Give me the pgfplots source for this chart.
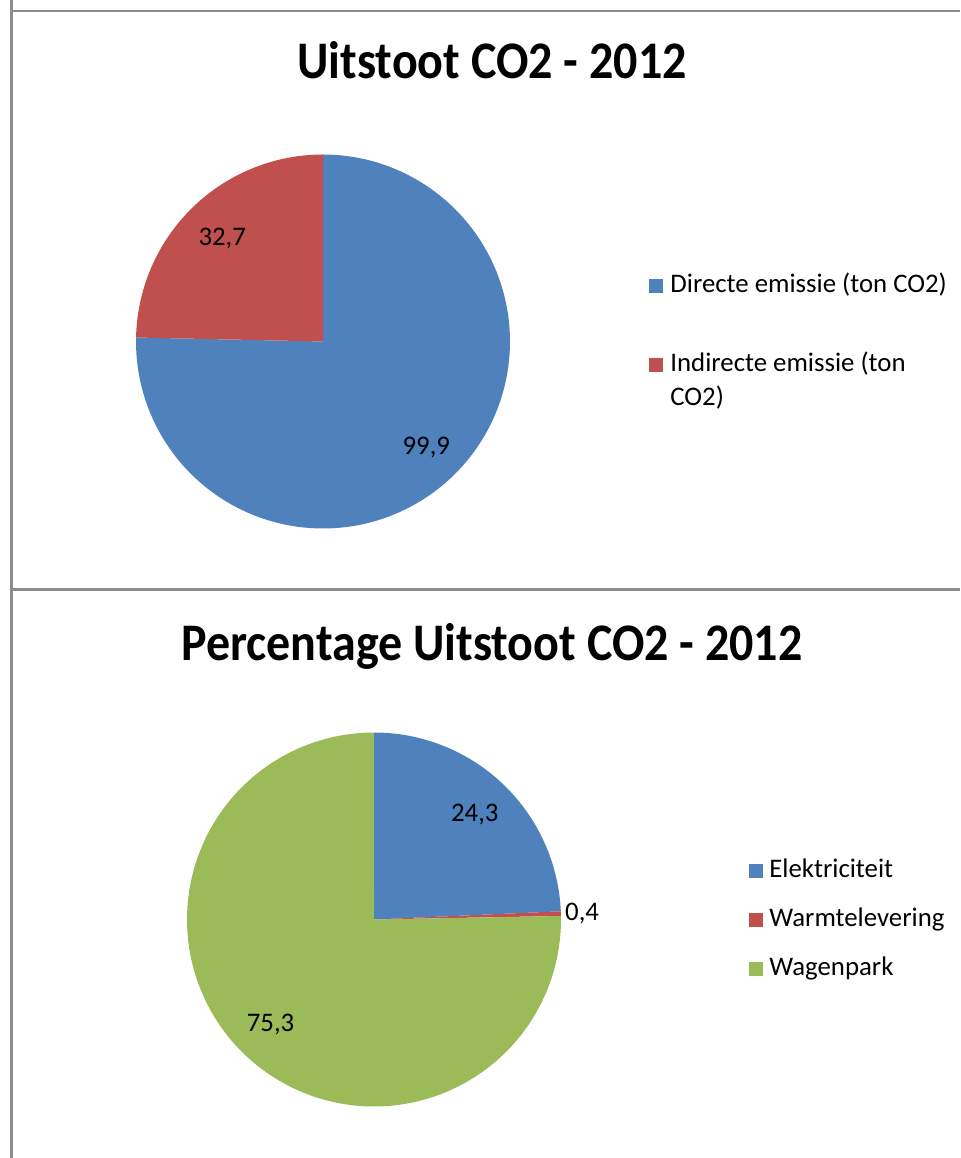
\documentclass[border=0pt]{standalone}
\usepackage{pgfplots}
\pgfplotsset{compat=1.18}
\usepackage{fontspec}
\setmainfont{Carlito}
\definecolor{pblue}{HTML}{4F81BD}
\definecolor{pred}{HTML}{C0504D}
\definecolor{pgreen}{HTML}{9BBB59}
\definecolor{framegray}{HTML}{8C8C8C}

% ---- data ----
\def\dA{99.9}% Directe emissie (ton CO2)
\def\dB{32.7}% Indirecte emissie (ton CO2)
\def\eA{24.3}% Elektriciteit
\def\eB{0.4}%  Warmtelevering
\def\eC{75.3}% Wagenpark

\pgfplotsset{
  pie/.style={hide axis, scale only axis, width=187pt, height=187pt,
    xmin=-1, xmax=1, ymin=-1, ymax=1, clip=false, anchor=center},
  wedge/.style={fill=#1, draw=none, samples=180, variable=\t},
}
\newcommand{\lbl}[1]{\pgfmathprintnumber[fixed, precision=1, use comma, fixed zerofill, assume math mode=true]{#1}}
\newcommand{\ttl}[1]{\scalebox{1}[1.1]{#1}}

\begin{document}
\begin{tikzpicture}
% angles chart 1 (clockwise from 12 o'clock)
\pgfmathsetmacro{\tA}{\dA+\dB}
\pgfmathsetmacro{\aA}{90-360*(\dA/\tA)}
\pgfmathsetmacro{\aB}{\aA-360*(\dB/\tA)}
\pgfmathsetmacro{\mA}{(90+\aA)/2}
\pgfmathsetmacro{\mB}{(\aA+\aB)/2}
\pgfmathsetmacro{\xmA}{0.79*cos(\mA)}\pgfmathsetmacro{\ymA}{0.79*sin(\mA)}
\pgfmathsetmacro{\xmB}{0.77*cos(\mB)}\pgfmathsetmacro{\ymB}{0.77*sin(\mB)}
% angles chart 2
\pgfmathsetmacro{\tE}{\eA+\eB+\eC}
\pgfmathsetmacro{\bA}{90-360*(\eA/\tE)}
\pgfmathsetmacro{\bB}{\bA-360*(\eB/\tE)}
\pgfmathsetmacro{\bC}{\bB-360*(\eC/\tE)}
\pgfmathsetmacro{\nA}{(90+\bA)/2}
\pgfmathsetmacro{\nB}{(\bA+\bB)/2}
\pgfmathsetmacro{\nC}{(\bB+\bC)/2}
\pgfmathsetmacro{\xnA}{0.78*cos(\nA)}\pgfmathsetmacro{\ynA}{0.78*sin(\nA)}
\pgfmathsetmacro{\xnB}{1.01*cos(\nB)}\pgfmathsetmacro{\ynB}{1.01*sin(\nB)}
\pgfmathsetmacro{\xnC}{0.79*cos(\nC)}\pgfmathsetmacro{\ynC}{0.79*sin(\nC)}

\begin{scope}[x=0.5pt,y=0.5pt]
\path[use as bounding box] (0,0) rectangle (960,1158);
% frames
\draw[framegray, line width=1.2pt] (11.3,1158) -- (11.3,1146.7) -- (960,1146.7);
\draw[framegray, line width=1.8pt] (11.3,568.5) -- (960,568.5);
\draw[framegray, line width=1.2pt] (11.3,1146.7) -- (11.3,0);
% titles
\node[anchor=base, inner sep=0pt, font=\fontsize{24}{29}\selectfont\bfseries] at (492,1079) {\ttl{Uitstoot CO2 - 2012}};
\node[anchor=base, inner sep=0pt, font=\fontsize{24}{29}\selectfont\bfseries] at (492,497) {\ttl{Percentage Uitstoot CO2 - 2012}};
% legend 1
\fill[pblue] (649,1158-279) rectangle (663,1158-293);
\node[anchor=base west, inner sep=0pt, font=\fontsize{13.4}{17}\selectfont] at (670,1158-293) {Directe emissie (ton CO2)};
\fill[pred] (649,1158-358) rectangle (663,1158-372);
\node[anchor=base west, inner sep=0pt, font=\fontsize{13.4}{17}\selectfont] at (670,1158-372) {Indirecte emissie (ton};
\node[anchor=base west, inner sep=0pt, font=\fontsize{13.4}{17}\selectfont] at (670,1158-406) {CO2)};
% legend 2
\fill[pblue] (749,1158-864) rectangle (763,1158-878);
\node[anchor=base west, inner sep=0pt, font=\fontsize{13.4}{17}\selectfont] at (769,1158-878) {Elektriciteit};
\fill[pred] (749,1158-913) rectangle (763,1158-927);
\node[anchor=base west, inner sep=0pt, font=\fontsize{13.4}{17}\selectfont] at (769,1158-927) {Warmtelevering};
\fill[pgreen] (749,1158-962) rectangle (763,1158-976);
\node[anchor=base west, inner sep=0pt, font=\fontsize{13.4}{17}\selectfont] at (769,1158-976) {Wagenpark};
\end{scope}

% chart 1
\begin{axis}[pie, at={(161.5pt,408.25pt)}]
\addplot[wedge=pblue, domain=\aA:90] ({cos(\t)},{sin(\t)}) -- (axis cs:0,0) -- cycle;
\addplot[wedge=pred, domain=\aB:\aA] ({cos(\t)},{sin(\t)}) -- (axis cs:0,0) -- cycle;
\node[font=\fontsize{13.4}{15}\selectfont] at (axis cs:\xmA,\ymA) {\lbl{\dA}};
\node[font=\fontsize{13.4}{15}\selectfont] at (axis cs:\xmB,\ymB) {\lbl{\dB}};
\end{axis}

% chart 2
\begin{axis}[pie, at={(187pt,119.25pt)}]
\addplot[wedge=pblue, domain=\bA:90] ({cos(\t)},{sin(\t)}) -- (axis cs:0,0) -- cycle;
\addplot[wedge=pred, domain=\bB:\bA, samples=10] ({cos(\t)},{sin(\t)}) -- (axis cs:0,0) -- cycle;
\addplot[wedge=pgreen, domain=\bC:\bB] ({cos(\t)},{sin(\t)}) -- (axis cs:0,0) -- cycle;
\node[font=\fontsize{13.4}{15}\selectfont] at (axis cs:\xnA,\ynA) {\lbl{\eA}};
\node[anchor=west, inner sep=1pt, font=\fontsize{13.4}{15}\selectfont] at (axis cs:\xnB,\ynB) {\lbl{\eB}};
\node[font=\fontsize{13.4}{15}\selectfont] at (axis cs:\xnC,\ynC) {\lbl{\eC}};
\end{axis}
\end{tikzpicture}
\end{document}
